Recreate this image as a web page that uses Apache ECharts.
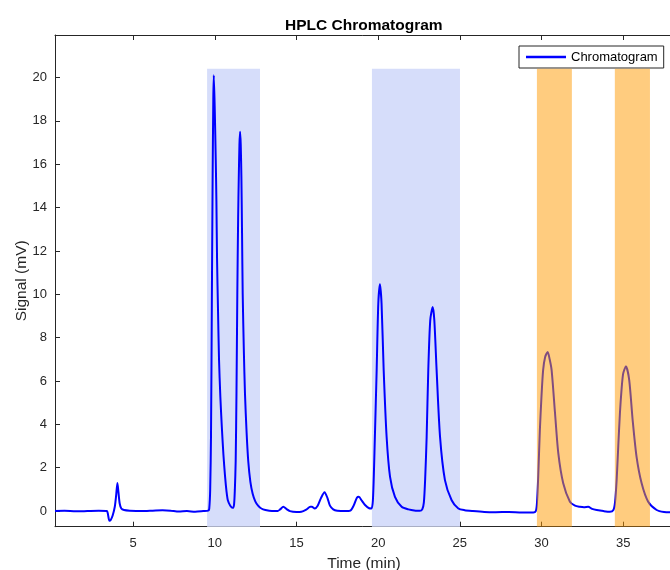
<!DOCTYPE html>
<html>
<head>
<meta charset="utf-8">
<script src="https://cdn.jsdelivr.net/npm/echarts@6/dist/echarts.min.js"></script>
<style>html,body{margin:0;padding:0;background:#fff;}#c{width:670px;height:570px;}</style>
</head>
<body>
<div id="c"></div>
<script>
// Time (min) and signal (mV)
const times = [
  0.22, 0.8, 1.5, 2.2, 2.9, 3.4, 3.45, 3.55, 3.62, 3.75, 3.88, 3.96, 4.04, 4.1, 4.18, 4.28, 4.45, 4.8,
  5.5, 6.2, 6.8, 7.3, 7.8, 8.3, 8.8, 9.3, 9.6,
  9.66, 9.72, 9.77, 9.82, 9.87, 9.91, 9.94, 10.0, 10.06, 10.1, 10.14, 10.2, 10.26, 10.34, 10.43, 10.53, 10.63, 10.72, 10.8, 10.95, 11.1,
  11.18, 11.23, 11.28, 11.33, 11.38, 11.43, 11.47, 11.51, 11.55, 11.59, 11.63, 11.67, 11.71, 11.78, 11.85, 11.95, 12.05, 12.18, 12.32, 12.48, 12.65, 12.85,
  13.1, 13.5, 13.85, 14.0, 14.2, 14.38, 14.6, 15.0, 15.3, 15.6, 15.85, 15.95, 16.12, 16.3, 16.5, 16.72, 16.9, 17.05, 17.25, 17.5,
  18.0, 18.3, 18.5, 18.7, 18.82, 19.0, 19.2, 19.45, 19.6,
  19.68, 19.75, 19.8, 19.91, 20.01, 20.11, 20.21, 20.34, 20.52, 20.73, 21.03, 21.44, 21.85, 22.3, 22.55,
  22.7, 22.8, 22.88, 22.97, 23.07, 23.19, 23.34, 23.44, 23.58, 23.79, 24.09, 24.5, 24.91, 25.3,
  25.8, 26.5, 27.2, 28.0, 28.8, 29.5,
  29.65, 29.72, 29.8, 29.9, 30.0, 30.1, 30.22, 30.38, 30.5, 30.62, 30.83, 31.03, 31.33, 31.74, 32.05, 32.35, 32.6, 32.86, 33.1, 33.38, 33.8, 34.19,
  34.4, 34.5, 34.6, 34.7, 34.8, 34.9, 35.0, 35.17, 35.37, 35.58, 35.82, 36.13, 36.53, 37.05, 37.5, 38.05
];
const signal = [
  0.0, 0.01, -0.01, 0.0, 0.01, 0.0, -0.1, -0.45, -0.42, -0.2, 0.2, 0.7, 1.3, 0.9, 0.35, 0.12, 0.05, 0.02,
  0.0, 0.02, 0.04, 0.02, -0.02, 0.0, -0.03, 0.0, 0.02,
  0.1, 1.0, 3.5, 9.5, 15.5, 19.0, 20.1, 18.5, 16.2, 14.3, 11.6, 9.2, 7.0, 5.3, 3.9, 2.6, 1.6, 0.9, 0.5, 0.25, 0.15,
  0.3, 1.0, 2.3, 5.5, 10.0, 13.5, 15.4, 16.9, 17.5, 16.9, 15.4, 12.8, 10.0, 7.4, 5.4, 3.6, 2.3, 1.35, 0.8, 0.45, 0.25, 0.12,
  0.05, 0.0, 0.0, 0.08, 0.2, 0.1, 0.0, -0.04, -0.03, 0.07, 0.2, 0.2, 0.12, 0.25, 0.6, 0.87, 0.6, 0.25, 0.08, 0.02,
  0.0, 0.02, 0.25, 0.62, 0.66, 0.48, 0.28, 0.13, 0.12,
  0.5, 2.0, 3.4, 6.5, 9.57, 10.46, 9.57, 6.5, 3.42, 1.58, 0.66, 0.2, 0.08, 0.02, 0.01,
  0.08, 0.4, 1.5, 3.42, 6.5, 8.8, 9.41, 8.8, 6.5, 3.42, 1.43, 0.5, 0.12, 0.04,
  0.0, -0.04, -0.05, -0.04, -0.06, -0.06,
  0.0, 0.35, 1.6, 3.73, 5.3, 6.5, 7.1, 7.34, 7.0, 6.5, 4.5, 2.66, 1.28, 0.43, 0.25, 0.2, 0.18, 0.2, 0.1, 0.05, 0.0, -0.03,
  0.05, 0.4, 1.43, 3.0, 4.5, 5.6, 6.34, 6.68, 6.04, 4.2, 2.5, 1.28, 0.43, 0.05, -0.04, -0.06
];
// Highlighted regions [start, end] in minutes
const blueRegions = [[9.53, 12.77], [19.62, 25.01]];
const orangeRegions = [[29.72, 31.86], [34.49, 36.64]];
const regionTop = 20.4;
const xTicks = [5, 10, 15, 20, 25, 30, 35];
const yTicks = [0, 2, 4, 6, 8, 10, 12, 14, 16, 18, 20];
const xRange = [0.22, 38.05];
const yRange = [-0.72, 21.96];

const axisColor = '#262626';
const font = '"Liberation Sans", Arial, Helvetica, sans-serif';

const lineData = times.map((t, i) => [t, signal[i]]);
const toAreas = (regs) => regs.map(r => [{ xAxis: r[0], yAxis: yRange[0] }, { xAxis: r[1], yAxis: regionTop }]);

const chart = echarts.init(document.getElementById('c'), null, { renderer: 'canvas' });
chart.setOption({
  animation: false,
  backgroundColor: '#fff',
  title: {
    text: 'HPLC Chromatogram', left: 280, top: 13,
    textStyle: { fontFamily: font, fontSize: 15.5, fontWeight: 'bold', color: '#000' }
  },
  legend: {
    data: [{ name: 'Chromatogram', icon: 'rect' }], left: 519, top: 46,
    itemWidth: 40, itemHeight: 2.5,
    padding: [4, 6, 4, 7],
    borderColor: axisColor, borderWidth: 1, borderRadius: 0, backgroundColor: '#fff',
    textStyle: { fontFamily: font, fontSize: 13, color: '#000', lineHeight: 14 }
  },
  grid: { left: 55, top: 35, width: 618, height: 491.7, containLabel: false, outerBoundsMode: 'none' },
  xAxis: [{
    type: 'value', min: xRange[0], max: xRange[1],
    name: 'Time (min)', nameLocation: 'middle', nameGap: 29,
    nameTextStyle: { fontFamily: font, fontSize: 15.5, color: '#262626' },
    axisLine: { show: true, onZero: false, lineStyle: { color: axisColor, width: 1 } },
    axisTick: { show: true, inside: true, length: 5, customValues: xTicks, lineStyle: { color: axisColor } },
    axisLabel: { customValues: xTicks, fontFamily: font, fontSize: 13, color: '#262626', margin: 10 },
    splitLine: { show: false }
  }, {
    type: 'value', position: 'top', min: xRange[0], max: xRange[1],
    axisLine: { show: true, onZero: false, lineStyle: { color: axisColor, width: 1 } },
    axisTick: { show: true, inside: true, length: 5, customValues: xTicks, lineStyle: { color: axisColor } },
    axisLabel: { show: false },
    splitLine: { show: false }
  }],
  yAxis: {
    type: 'value', min: yRange[0], max: yRange[1],
    name: 'Signal (mV)', nameLocation: 'middle', nameGap: 25, nameRotate: 90, nameMoveOverlap: false,
    nameTextStyle: { fontFamily: font, fontSize: 15.5, color: '#262626' },
    axisLine: { show: true, onZero: false, lineStyle: { color: axisColor, width: 1 } },
    axisTick: { show: true, inside: true, length: 5, customValues: yTicks, lineStyle: { color: axisColor } },
    axisLabel: { customValues: yTicks, fontFamily: font, fontSize: 13, color: '#262626', margin: 8 },
    splitLine: { show: false }
  },
  series: [{
    name: 'blueRegions', type: 'line', data: [], z: 1, silent: true,
    markArea: { silent: true, z: 1, itemStyle: { color: '#d6ddfa' }, data: toAreas(blueRegions) }
  }, {
    name: 'Chromatogram', type: 'line', data: lineData, z: 2, symbol: 'none',
    smooth: 0.25,
    lineStyle: { color: '#0000ff', width: 2 }, itemStyle: { color: '#0000ff' }
  }, {
    name: 'orangeRegions', type: 'line', data: [], z: 5, silent: true,
    markArea: { silent: true, z: 5, itemStyle: { color: 'rgba(255,153,0,0.5)' }, data: toAreas(orangeRegions) }
  }]
});
</script>
</body>
</html>
